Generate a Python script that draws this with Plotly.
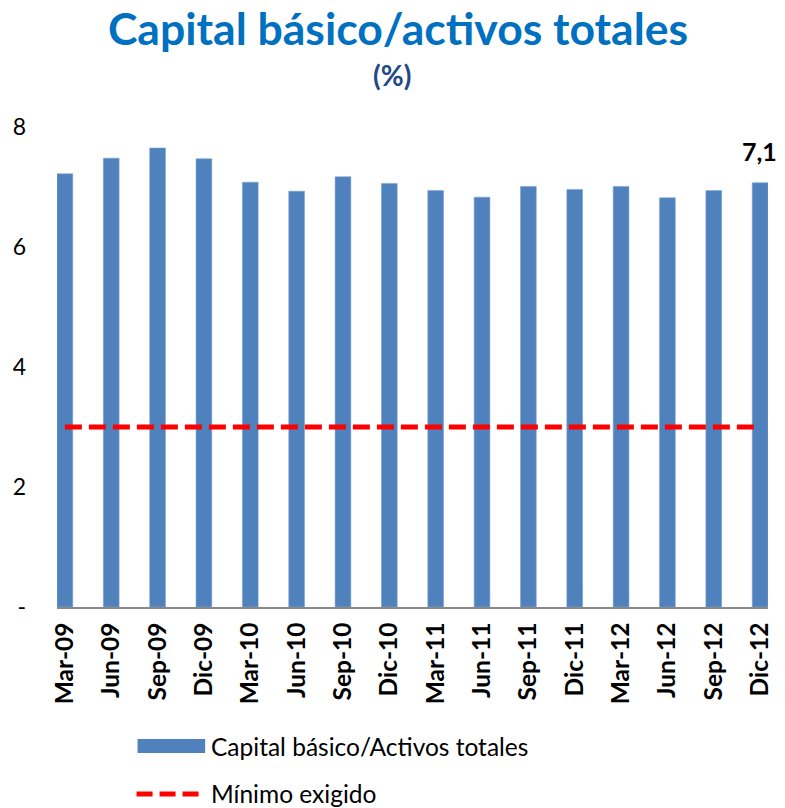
import plotly.graph_objects as go

categories = ["Mar-09", "Jun-09", "Sep-09", "Dic-09", "Mar-10", "Jun-10", "Sep-10", "Dic-10",
              "Mar-11", "Jun-11", "Sep-11", "Dic-11", "Mar-12", "Jun-12", "Sep-12", "Dic-12"]
capital_ratio = [7.22, 7.48, 7.65, 7.47, 7.08, 6.93, 7.17, 7.06,
                 6.94, 6.83, 7.01, 6.96, 7.01, 6.82, 6.94, 7.07]
minimum_required = [3.0] * len(categories)
y_tickvals = [0, 2, 4, 6, 8]
y_ticktext = ["-", "2", "4", "6", "8"]

series_bar_name = "Capital básico/Activos totales"
series_line_name = "Mínimo exigido"
title_text = "Capital básico/activos totales"
subtitle_text = "(%)"

BLUE = "#4F81BD"
RED = "#FF0000"
FONT = "Lato"

W, H = 785, 808
L, R, T, B = 57, 13, 127, 201
PW, PH = W - L - R, H - T - B


def px_x(x):
    return (x - L) / PW


def px_y(y):
    return (H - B - y) / PH


fig = go.Figure()
fig.add_trace(go.Bar(
    x=categories, y=capital_ratio, name=series_bar_name,
    marker=dict(color=BLUE, line=dict(color="#7EA3CF", width=0.6)),
    showlegend=False,
))
fig.add_trace(go.Scatter(
    x=categories, y=minimum_required, name=series_line_name, mode="lines",
    line=dict(color=RED, width=5, dash="17px,7px"),
    showlegend=False,
))

last_val = capital_ratio[-1]
fig.add_annotation(
    x=categories[-1], y=last_val, text="<b>" + f"{last_val:.1f}".replace(".", ",") + "</b>",
    showarrow=False, yanchor="bottom", yshift=15, xshift=-1,
    font=dict(family=FONT, size=25, color="#000000"),
)

# subtitle
fig.add_annotation(
    xref="paper", yref="paper", x=px_x(394), y=px_y(75), text="<b>" + subtitle_text + "</b>",
    showarrow=False, xanchor="center", yanchor="middle",
    font=dict(family=FONT, size=28, color="#1F4A86"),
)

# custom legend
fig.add_shape(type="rect", xref="paper", yref="paper",
              x0=px_x(138), x1=px_x(206), y0=px_y(753), y1=px_y(739),
              fillcolor=BLUE, line=dict(width=0))
fig.add_annotation(xref="paper", yref="paper", x=px_x(210), y=px_y(746), text=series_bar_name,
                   showarrow=False, xanchor="left", yanchor="middle",
                   font=dict(family=FONT, size=24.5, color="#000000"))
fig.add_shape(type="line", xref="paper", yref="paper",
              x0=px_x(137), x1=px_x(200), y0=px_y(794), y1=px_y(794),
              line=dict(color=RED, width=5, dash="16px,7px"))
fig.add_annotation(xref="paper", yref="paper", x=px_x(210), y=px_y(793), text=series_line_name,
                   showarrow=False, xanchor="left", yanchor="middle",
                   font=dict(family=FONT, size=24.5, color="#000000"))

fig.update_layout(
    width=W, height=H,
    margin=dict(l=L, r=R, t=T, b=B, pad=0),
    paper_bgcolor="white", plot_bgcolor="white",
    bargap=0.66,
    title=dict(text="<b>" + title_text + "</b>", x=398 / W, xref="container", xanchor="center",
               y=1 - 29 / H, yref="container", yanchor="middle",
               font=dict(family=FONT, size=44.5, color="#0070C0")),
    font=dict(family=FONT, color="#000000"),
)
fig.update_xaxes(
    type="category", range=[-0.17, len(categories) - 1 + 0.17],
    showline=True, linecolor="#898989", linewidth=1.5,
    showgrid=False, ticks="", tickangle=-90,
    tickfont=dict(family=FONT, size=24.5, color="#000000", weight="bold"),
    ticklabelstandoff=4,
)
fig.update_yaxes(
    range=[0, 8], tickvals=y_tickvals, ticktext=y_ticktext,
    showline=False, showgrid=False, zeroline=False, ticks="",
    tickfont=dict(family=FONT, size=23, color="#000000"),
    ticklabelstandoff=30,
)

fig.write_html(
    "out.html",
    config={"displayModeBar": False},
    post_script="document.body.style.margin='0';document.body.style.overflow='hidden';",
)
